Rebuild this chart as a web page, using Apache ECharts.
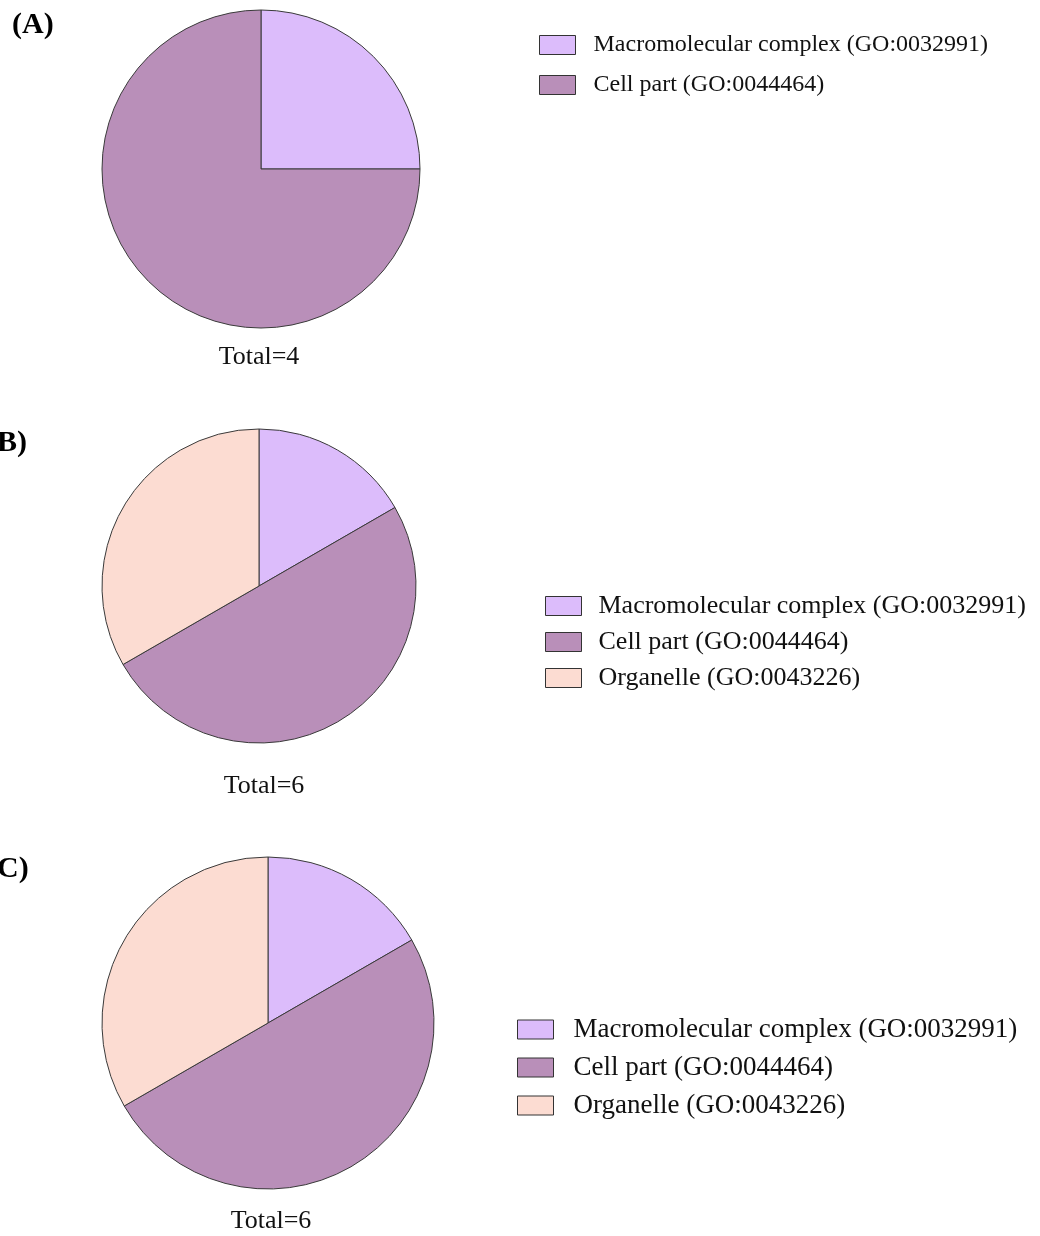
<!DOCTYPE html>
<html>
<head>
<meta charset="utf-8">
<style>
  html, body { margin: 0; padding: 0; background: #fff; }
  #chart { width: 1040px; height: 1236px; }
</style>
<script src="https://cdn.jsdelivr.net/npm/echarts@6/dist/echarts.min.js"></script>
</head>
<body>
<div id="chart"></div>
<script>
// GO cellular-component categories
const categories = [
  'Macromolecular complex (GO:0032991)',
  'Cell part (GO:0044464)',
  'Organelle (GO:0043226)'
];
const colors = ['#dcbcfb', '#b98fb9', '#fcdcd2'];

// gene counts per category for each panel
const valuesA = [1, 3];
const valuesB = [1, 3, 2];
const valuesC = [1, 3, 2];

const panelLabels = ['(A)', '(B)', '(C)'];
const totalLabels = ['Total=4', 'Total=6', 'Total=6'];

const serif = '"Liberation Serif", "Times New Roman", serif';

function pieData(vals) {
  return vals.map((v, i) => ({
    name: categories[i],
    value: v,
    itemStyle: { color: colors[i] }
  }));
}

const panels = [
  { vals: valuesA, center: [261, 169], r: 159, legend: { left: 539, top: 33, gap: 16, size: 24, pad: 13 } },
  { vals: valuesB, center: [259, 586], r: 157, legend: { left: 545, top: 593, gap: 10, size: 26, pad: 12 } },
  { vals: valuesC, center: [268, 1023], r: 166, legend: { left: 517, top: 1016, gap: 11, size: 27, pad: 15 } }
];

const series = panels.map(p => ({
  type: 'pie',
  center: p.center,
  radius: p.r,
  startAngle: 90,
  clockwise: true,
  silent: true,
  label: { show: false },
  labelLine: { show: false },
  itemStyle: { borderColor: '#3a3a3a', borderWidth: 1 },
  emphasis: { disabled: true },
  data: pieData(p.vals)
}));

const legends = panels.map(p => ({
  orient: 'vertical',
  left: p.legend.left,
  top: p.legend.top,
  padding: 0,
  itemWidth: 36,
  itemHeight: 19,
  itemGap: p.legend.gap,
  icon: 'rect',
  selectedMode: false,
  data: categories.slice(0, p.vals.length),
  itemStyle: { borderColor: '#333', borderWidth: 1 },
  textStyle: {
    fontFamily: serif,
    fontSize: p.legend.size,
    color: '#111',
    padding: [0, 0, 0, p.legend.pad]
  }
}));

const labelFont = 'bold 30px ' + serif;
const totalFont = '26px ' + serif;
const graphics = [
  { type: 'text', left: 12, top: 10, style: { text: panelLabels[0], font: labelFont, fill: '#000' } },
  { type: 'text', left: -13, top: 428, style: { text: panelLabels[1], font: labelFont, fill: '#000' } },
  { type: 'text', left: -13, top: 854, style: { text: panelLabels[2], font: labelFont, fill: '#000' } },
  { type: 'text', x: 259, y: 357, style: { text: totalLabels[0], font: totalFont, fill: '#111', align: 'center', verticalAlign: 'middle' } },
  { type: 'text', x: 264, y: 786, style: { text: totalLabels[1], font: totalFont, fill: '#111', align: 'center', verticalAlign: 'middle' } },
  { type: 'text', x: 271, y: 1221, style: { text: totalLabels[2], font: totalFont, fill: '#111', align: 'center', verticalAlign: 'middle' } }
];

const chart = echarts.init(document.getElementById('chart'), null, { renderer: 'canvas' });
chart.setOption({
  backgroundColor: '#fff',
  animation: false,
  legend: legends,
  series: series,
  graphic: graphics
});
</script>
</body>
</html>
